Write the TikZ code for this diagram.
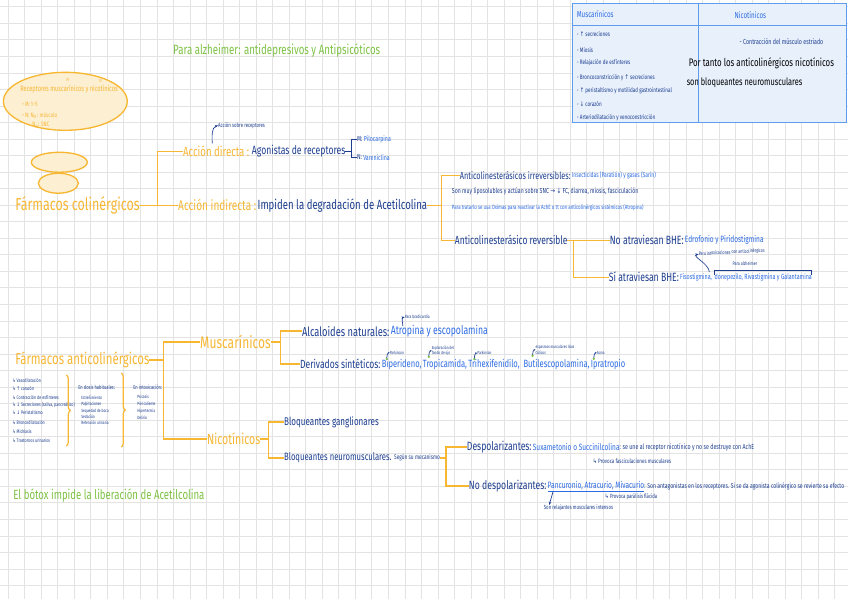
\documentclass[tikz,border=0pt]{standalone}
\usepackage{fontspec}
\setmainfont[FakeStretch=0.72]{Fira Sans}
\newfontfamily\nbsym[FakeStretch=0.8]{DejaVu Sans}
\usetikzlibrary{arrows.meta,positioning,calc,decorations.pathreplacing}
\definecolor{nbOrange}{HTML}{F7B733}
\definecolor{nbNavy}{HTML}{1C3D8F}
\definecolor{nbBlue}{HTML}{2C6BE3}
\definecolor{nbGreen}{HTML}{7DC243}
\definecolor{nbGrid}{HTML}{E3E3E3}
\definecolor{nbCream}{HTML}{FCEFD2}
\definecolor{nbTable}{HTML}{E7F0FB}
\definecolor{nbTableLine}{HTML}{5E9DEE}
\newcommand{\nbUp}{{\nbsym ↑}}
\newcommand{\nbDown}{{\nbsym ↓}}
\newcommand{\nbRight}{{\nbsym →}}
\newcommand{\nbHook}{{\nbsym ↳}}
\tikzset{
  lbl/.style={inner sep=0pt, outer sep=0pt, anchor=west},
  tO/.style={lbl, text=nbOrange},
  tN/.style={lbl, text=nbNavy},
  tB/.style={lbl, text=nbBlue},
  tG/.style={lbl, text=nbGreen},
  tK/.style={lbl, text=black},
  fs/.style={font=\fontsize{#1}{#1}\selectfont},
  brk/.style={draw=nbOrange, line width=0.9pt},
  nline/.style={draw=nbNavy, line width=0.6pt},
  nt/.style={-{Stealth[length=2.5pt]}, draw=nbNavy, line width=0.5pt},
  bubble/.style={draw=nbOrange, line width=1pt, fill=nbCream},
  curly/.style={brk, decorate, decoration={brace, amplitude=3pt}},
}
\begin{document}
\begin{tikzpicture}[x=0.75pt,y=-0.75pt]
  % paper
  \fill[white] (0,0) rectangle (848,599);
  \foreach \k in {0,...,50} \draw[nbGrid, line width=0.6pt] (7.7+\k*16.55,0) -- ++(0,599);
  \foreach \k in {0,...,35} \draw[nbGrid, line width=0.6pt] (0,6.4+\k*16.55) -- ++(848,0);
  \useasboundingbox (0,0) rectangle (848,599);

  % receptores
  \draw[bubble] (65,101) ellipse [x radius=62, y radius=29];
  \node[tO, fs=5.9] (rectxt) at (20,89) {Receptores muscarínicos y nicotínicos};
  \node[tO, fs=3.5] (supM) at (66,80) {M};
  \node[tO, fs=3.5] (supN) at (99,81) {N};
  \node[tO, fs=4.8] (recM) at (22,104) {• M: 1–5};
  \node[tO, fs=4.8] (recN) at (22,115) {• N: N\textsubscript{M}: músculo};
  \node[tO, fs=4.8] (recNN) at (32,125) {N\textsubscript{N}: SNC};
  \node[tG, fs=10.1] (alz) at (173,50) {Para alzheimer: antidepresivos y Antipsicóticos};
  \draw[bubble] (59,162) ellipse [x radius=28, y radius=10];
  \draw[bubble] (58,183) ellipse [x radius=20, y radius=10];

  % colinergicos
  \node[tO, fs=13] (colin) at (15,205) {Fármacos colinérgicos};
  \node[tO, fs=10] (dir) at (183,151) {Acción directa :};
  \node[tN, fs=9, right=2pt of dir] (agon) {Agonistas de receptores};
  \node[tO, fs=10.5] (indir) at (178,205) {Acción indirecta :};
  \node[tN, fs=10, right=1pt of indir] (degr) {Impiden la degradación de Acetilcolina};
  \coordinate (cb) at (157,0);
  \draw[brk] (colin.east) -- (cb |- colin.east) |- (dir.west);
  \draw[brk] (cb |- colin.east) -- (indir.west);
  \node[tN, fs=5.5] (mA) at (357,139) {M:};
  \node[tB, fs=5.5, right=1pt of mA] (pilo) {Pilocarpina};
  \node[tN, fs=5.5] (nA) at (357,157) {N:};
  \node[tB, fs=5.5, right=1pt of nA] (vare) {Vareniclina};
  \coordinate (ab) at ($(agon.east)+(6,0)$);
  \draw[nline] (agon.east) -- (ab) (mA.west) -| (ab) |- (nA.west);
  \node[tN, fs=4.5] (sobre) at (218,125) {Acción sobre receptores};
  \coordinate (sobreFrom) at (212,143);
  \draw[nt] (sobreFrom) to[out=90, in=200] (sobre.west);

  % indirecta
  \node[tN, fs=7.6] (irrev) at (460,175) {Anticolinesterásicos irreversibles:};
  \node[tB, fs=5.2, right=1pt of irrev] (insect) {Insecticidas (Paratión) y gases (Sarín)};
  \node[tN, fs=5.4] (lipo) at (452,191) {Son muy liposolubles y actúan sobre SNC \nbRight\ \nbDown\ FC, diarrea, miosis, fasciculación};
  \node[tB, fs=4.6] (oxim) at (452,207) {Para tratarlo se usa Oximas para reactivar la AchE o tt con anticolinérgicos sistémicos (Atropina)};
  \node[tN, fs=8.8] (rev) at (455,240) {Anticolinesterásico reversible};
  \coordinate (ib) at ($(degr.east)+(14,0)$);
  \draw[brk] (degr.east) -- (ib) |- (irrev.west);
  \draw[brk] (ib) |- (rev.west);
  \node[tN, fs=9] (noBHE) at (610,240) {No atraviesan BHE:};
  \node[tB, fs=6.8, right=1pt of noBHE] (edro) {Edrofonio y Piridostigmina};
  \node[tN, fs=9] (siBHE) at (609,277) {Sí atraviesan BHE:};
  \node[tB, fs=5.6, right=1pt of siBHE] (fisoA) {Fisostigmina,};
  \node[tB, fs=5.6, right=2pt of fisoA] (fisoB) {donepezilo, Rivastigmina y Galantamina};
  \coordinate (rb) at ($(rev.east)+(6,0)$);
  \draw[brk] (rev.east) -- (noBHE.west);
  \draw[brk] (rb) |- (siBHE.west);
  \draw[nline] ([yshift=-1pt]fisoB.north west) -- ([yshift=2pt]fisoB.north west) -- ([yshift=2pt]fisoB.north east) -- ([yshift=-1pt]fisoB.north east);
  \node[tN, fs=3.8] (alzNote) at (733,263) {Para alzheimer};
  \node[tN, fs=3.8, rotate=3] (intox) at (699,254) {Para intoxicaciones con anticolinérgicos};
  \draw[nt] ([xshift=-2pt,yshift=1pt]fisoA.north east) to[out=90, in=190] (intox.west);

  % tabla
  \draw[draw=nbTableLine, fill=nbTable, line width=0.8pt] (573,3) rectangle (847,122);
  \draw[nbTableLine, line width=0.8pt] (573,25) -- (847,25) (699,3) -- (699,122);
  \node[tB, fs=6.5] (hM) at (577,14) {Muscarínicos};
  \node[tB, fs=6.5] (hN) at (735,15) {Nicotínicos};
  \foreach \y/\t in {34/{- \nbUp\ secreciones}, 50/{- Miosis}, 62/{- Relajación de esfínteres},
      77/{- Broncoconstricción y \nbUp\ secreciones}, 90/{- \nbUp\ peristaltismo y motilidad gastrointestinal},
      104/{- \nbDown\ corazón}, 117/{- Arteriodilatación y venoconstricción}}
    \node[tN, fs=4.8] (m\y) at (577,\y) {\t};
  \node[tN, fs=5.5] (contr) at (740,41) {- Contracción del músculo estriado};
  \node[tK, fs=8.2] (porT) at (689,63) {Por tanto los anticolinérgicos nicotínicos};
  \node[tK, fs=7.7] (sonB) at (687,82) {son bloqueantes neuromusculares};

  % anticolinergicos
  \node[tO, fs=11.9] (anti) at (15,360) {Fármacos anticolinérgicos};
  \node[tO, fs=12.5] (musc) at (200,342) {Muscarínicos};
  \node[tO, fs=11] (nico) at (207,439) {Nicotínicos};
  \coordinate (ab2) at ($(anti.east)+(14,0)$);
  \draw[brk] (anti.east) -- (ab2) |- (musc.west);
  \draw[brk] (ab2) |- (nico.west);

  \node[tN, fs=9.7] (alca) at (302,331) {Alcaloides naturales:};
  \node[tB, fs=9, right=1pt of alca] (atro) {Atropina y escopolamina};
  \node[tN, fs=8.9] (deri) at (300,364) {Derivados sintéticos:};
  \node[tB, fs=7.9, right=1pt of deri] (bipe) {Biperideno,};
  \node[tB, fs=7.9, right=1pt of bipe] (trop) {Tropicamida,};
  \node[tB, fs=7.9, right=1pt of trop] (trih) {Trihexifenidilo,};
  \node[tB, fs=7.9, right=3pt of trih] (buti) {Butilescopolamina,};
  \node[tB, fs=7.9, right=1pt of buti] (ipra) {Ipratropio};
  \coordinate (mb) at ($(musc.east)+(10,0)$);
  \draw[brk] (musc.east) -- (mb) |- (alca.west);
  \draw[brk] (mb) |- (deri.west);
  \node[tN, fs=3.5] (brad) at ($(atro.north west)+(14,-8)$) {Para bradicardia};
  \draw[nt] ($(atro.north west)+(12,1)$) to[out=90, in=190] (brad.west);
  \node[tN, fs=3.3] (nbipe) at ($(bipe.north west)+(8,-6)$) {Parkinson};
  \node[tN, fs=3.3, align=left] (ntrop) at ($(trop.north west)+(9,-8)$) {Exploración del\\fondo de ojo};
  \node[tN, fs=3.3] (ntrih) at ($(trih.north west)+(9,-6)$) {Parkinson};
  \node[tN, fs=3.3, align=left] (nbuti) at ($(buti.north west)+(12,-9)$) {espasmos musculares lisos\\ Cólicos};
  \node[tN, fs=3.3] (nipra) at ($(ipra.north west)+(6,-6)$) {Asma};
  \foreach \d in {bipe,trop,trih,buti,ipra} {
    \fill[nbGreen] ($(n\d.west)+(-3,6)$) circle (1.3);
    \draw[nt, -{Stealth[length=1.6pt]}] ($(n\d.west)+(-3,5)$) to[out=90, in=180] (n\d.west);
  }

  \node[tN, fs=8.4] (gang) at (284,422) {Bloqueantes ganglionares};
  \node[tN, fs=8] (neuro) at (284,458) {Bloqueantes neuromusculares.};
  \node[tN, fs=5, right=2pt of neuro] (segun) {Según su mecanismo};
  \coordinate (nb) at ($(nico.east)+(8,0)$);
  \draw[brk] (nico.east) -- (nb) |- (gang.west);
  \draw[brk] (nb) |- (neuro.west);

  \node[tN, fs=9] (desp) at (467,447) {Despolarizantes:};
  \node[tB, fs=6.8, right=1pt of desp] (suxa) {Suxametonio o Succinilcolina};
  \node[tN, fs=5.5, right=0pt of suxa] (seune) {: se une al receptor nicotínico y no se destruye con AchE};
  \node[tN, fs=4.7] (fasc) at (593,461) {\nbHook\ Provoca fasciculaciones musculares};
  \node[tN, fs=9] (nodesp) at (469,486) {No despolarizantes:};
  \node[tB, fs=6.9, right=1pt of nodesp] (panc) {Pancuronio, Atracurio, Mivacurio};
  \node[tN, fs=5.3, right=0pt of panc] (antag) {: Son antagonistas en los receptores. Si se da agonista colinérgico se revierte su efecto};
  \node[tN, fs=4.5] (flac) at (605,497) {\nbHook\ Provoca parálisis flácida};
  \node[tN, fs=4.5] (relaj) at (544,508) {Son relajantes musculares intensos};
  \draw[draw=nbBlue, line width=0.5pt] ([yshift=-1pt]panc.south west) -- ([yshift=-1pt]panc.south east);
  \draw[nt] ([shift={(4pt,-1pt)}]panc.south west) -- ([xshift=4pt]relaj.north west);
  \coordinate (db) at ($(segun.east)+(6,0)$);
  \draw[brk] (segun.east) -- (db) |- (desp.west);
  \draw[brk] (db) |- (nodesp.west);

  % efectos
  \foreach \y/\t in {380/Vasodilatación, 388/{\nbUp\ corazón}, 397/{Contracción de esfínteres},
      405/{\nbDown\ Secreciones (saliva, pancreático)}, 413/{\nbDown\ Peristaltismo}, 422/Broncodilatación,
      432/Midriasis, 441/{Trastornos urinarios}}
    \node[tN, fs=3.8] (e\y) at (12,\y) {\nbHook\ \t};
  \draw[curly] (66,375) -- (66,446);
  \node[tN, fs=4.2] (dosis) at (78,387) {En dosis habituales:};
  \foreach \y/\t in {398/Estreñimiento, 404/Palpitaciones, 411/{Sequedad de boca}, 417/Sedación, 423/{Retención urinaria}}
    \node[tN, fs=3.4] (d\y) at (81,\y) {\t};
  \draw[curly] (121,373) -- (121,447);
  \node[tN, fs=4.2] (intoxi) at (133,387) {En intoxicación:};
  \foreach \y/\t in {397/Psicosis, 404/{Piel caliente}, 411/Hipertermia, 418/Delirio}
    \node[tN, fs=3.4] (i\y) at (137,\y) {\t};

  \node[tG, fs=10] (botox) at (13,496) {El bótox impide la liberación de Acetilcolina};
\end{tikzpicture}
\end{document}
